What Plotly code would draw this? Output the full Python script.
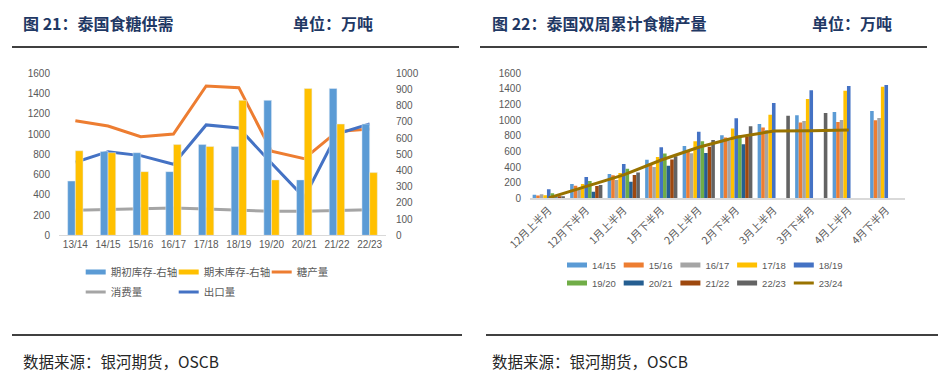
import plotly.graph_objects as go

# ---------------- data: left chart (泰国食糖供需) ----------------
seasons = ["13/14", "14/15", "15/16", "16/17", "17/18", "18/19", "19/20", "20/21", "21/22", "22/23"]
opening_stock = [335, 518, 510, 393, 560, 548, 833, 342, 906, 687]   # 期初库存-右轴
closing_stock = [522, 510, 393, 560, 548, 833, 342, 906, 687, 387]   # 期末库存-右轴
production = [1132, 1080, 974, 1000, 1475, 1458, 830, 757, 1024, 1050]  # 糖产量
consumption = [247, 257, 260, 270, 260, 250, 237, 237, 244, 253]        # 消费量
exports = [721, 826, 787, 701, 1090, 1060, 711, 372, 1000, 1100]        # 出口量

# ---------------- data: right chart (泰国双周累计食糖产量) ----------------
periods = ["12月上半月", "12月下半月", "1月上半月", "1月下半月", "2月上半月",
           "2月下半月", "3月上半月", "3月下半月", "4月上半月", "4月下半月"]
s1415 = [45, 184, 311, 493, 670, 806, 951, 1062, 1105, 1118]
s1516 = [35, 160, 294, 452, 602, 779, 905, 969, 977, 998]
s1617 = [51, 128, 235, 400, 576, 740, 875, 990, 1003, 1028]
s1718 = [38, 184, 324, 529, 730, 892, 1071, 1272, 1378, 1429]
s1819 = [115, 273, 440, 653, 853, 1026, 1220, 1382, 1438, 1451]
s1920 = [64, 222, 378, 572, 730, 806, None, None, None, None]
s2021 = [6, 85, 213, 418, 580, 691, None, None, None, None]
s2122 = [21, 158, 299, 497, 661, 790, None, None, None, None]
s2223 = [21, 171, 329, 538, 747, 922, 1058, 1092, None, None]
s2324 = [5, 149, 300, 490, 653, 781, 861, 864, 874, None]

bar_names = ["14/15", "15/16", "16/17", "17/18", "18/19", "19/20", "20/21", "21/22", "22/23"]
bar_values = [s1415, s1516, s1617, s1718, s1819, s1920, s2021, s2122, s2223]
bar_colors = ["#5B9BD5", "#ED7D31", "#A5A5A5", "#FFC000", "#4472C4",
              "#70AD47", "#255E91", "#9E480E", "#636363"]

W, H = 945, 379
def fx(x):
    return x / W
def fy(y):
    return 1 - y / H

TICK = dict(family="Liberation Sans, Arial, sans-serif", size=10, color="#595959")
CJK = "Noto Sans CJK SC, sans-serif"
SHORT = "0px,10px,23px,300px"   # legend swatch: 23px long, close to its label

fig = go.Figure()

def proxy(name, color, width, xa, ya, legend, lw=None):
    fig.add_trace(go.Scatter(x=[None], y=[None], mode="lines", name=name,
                             line=dict(color=color, width=width, dash=SHORT),
                             xaxis=xa, yaxis=ya, legend=legend, legendwidth=lw,
                             hoverinfo="skip"))

# ---- left chart ----
fig.add_trace(go.Bar(x=seasons, y=opening_stock, name="期初库存-右轴", marker_color="#5B9BD5",
                     xaxis="x", yaxis="y2", width=0.235, offset=-0.235, showlegend=False))
fig.add_trace(go.Bar(x=seasons, y=closing_stock, name="期末库存-右轴", marker_color="#FFC000",
                     xaxis="x", yaxis="y2", width=0.235, offset=0.0, showlegend=False))
fig.add_trace(go.Scatter(x=seasons, y=production, mode="lines", name="糖产量",
                         line=dict(color="#ED7D31", width=3), xaxis="x", yaxis="y", showlegend=False))
fig.add_trace(go.Scatter(x=seasons, y=consumption, mode="lines", name="消费量",
                         line=dict(color="#A5A5A5", width=3), xaxis="x", yaxis="y", showlegend=False))
fig.add_trace(go.Scatter(x=seasons, y=exports, mode="lines", name="出口量",
                         line=dict(color="#4472C4", width=3), xaxis="x", yaxis="y", showlegend=False))

proxy("期初库存-右轴", "#5B9BD5", 5, "x", "y", "legend")
proxy("期末库存-右轴", "#FFC000", 5, "x", "y", "legend")
proxy("糖产量", "#ED7D31", 3, "x", "y", "legend", 60)
proxy("消费量", "#A5A5A5", 3, "x", "y", "legend2")
proxy("出口量", "#4472C4", 3, "x", "y", "legend2", 60)

# ---- right chart ----
for nm, vals, col in zip(bar_names, bar_values, bar_colors):
    fig.add_trace(go.Bar(x=periods, y=vals, name=nm, marker_color=col, marker_line_width=0,
                         xaxis="x3", yaxis="y3", showlegend=False))
fig.add_trace(go.Scatter(x=periods, y=s2324, mode="lines", name="23/24",
                         line=dict(color="#997300", width=3), xaxis="x3", yaxis="y3",
                         showlegend=False))
for i, (nm, col) in enumerate(zip(bar_names, bar_colors)):
    proxy(nm, col, 5, "x3", "y3", "legend3" if i < 5 else "legend4", 40 if i == 4 else None)
proxy("23/24", "#997300", 3, "x3", "y3", "legend4", 40)

axis_common = dict(showgrid=False, zeroline=False, ticks="", tickfont=TICK, automargin=False)

leg_common = dict(orientation="h", xanchor="left", yanchor="middle", bgcolor="rgba(0,0,0,0)",
                  itemwidth=30, tracegroupgap=0, itemclick=False, itemdoubleclick=False)

fig.update_layout(
    width=W, height=H,
    margin=dict(l=0, r=0, t=0, b=0, autoexpand=False),
    paper_bgcolor="white", plot_bgcolor="white",
    barmode="group", bargap=0.14, bargroupgap=0,
    hovermode=False,
    xaxis=dict(domain=[fx(59), fx(386)], anchor="y", type="category",
               showline=True, linecolor="#D9D9D9", linewidth=1, **axis_common),
    yaxis=dict(domain=[fy(235.3), fy(73.3)], range=[0, 1600], dtick=200, anchor="x",
               showline=False, ticklabelstandoff=8, **axis_common),
    yaxis2=dict(overlaying="y", side="right", range=[0, 1000], dtick=100, anchor="x",
                showline=False, ticklabelstandoff=9, **axis_common),
    xaxis3=dict(domain=[fx(530), fx(905)], anchor="y3", type="category", tickangle=-45,
                showline=True, linecolor="#D9D9D9", linewidth=1.5, automargin=False,
                showgrid=False, zeroline=False, ticks="",
                tickfont=dict(family=CJK, size=10.5, color="#595959")),
    yaxis3=dict(domain=[fy(198.3), fy(73.3)], range=[0, 1600], dtick=200, anchor="x3",
                showline=False, ticklabelstandoff=8, **axis_common),
    legend=dict(x=fx(70.7), y=fy(272), entrywidth=48,
                font=dict(family=CJK, size=10.5, color="#595959"), **leg_common),
    legend2=dict(x=fx(70.7), y=fy(292), entrywidth=48,
                 font=dict(family=CJK, size=10.5, color="#595959"), **leg_common),
    legend3=dict(x=fx(552), y=fy(265), entrywidth=11.7,
                 font=dict(family="Liberation Sans, Arial, sans-serif", size=9.5, color="#595959"),
                 **leg_common),
    legend4=dict(x=fx(552), y=fy(283), entrywidth=11.7,
                 font=dict(family="Liberation Sans, Arial, sans-serif", size=9.5, color="#595959"),
                 **leg_common),
    showlegend=True,
)

title_font = dict(family=CJK, size=16, color="#1F3864", weight="bold")
foot_font = dict(family=CJK, size=15.5, color="#262626")
annots = [
    ("图 21：泰国食糖供需", 21, 23, title_font),
    ("单位：万吨", 291, 23, title_font),
    ("图 22：泰国双周累计食糖产量", 490, 23, title_font),
    ("单位：万吨", 810, 23, title_font),
    ("数据来源：银河期货，OSCB", 21, 361, foot_font),
    ("数据来源：银河期货，OSCB", 490, 361, foot_font),
]
for txt, x, y, f in annots:
    fig.add_annotation(text=txt, xref="paper", yref="paper", x=fx(x), y=fy(y),
                       xanchor="left", yanchor="middle", showarrow=False, font=f)

for x0, x1, y in [(12, 459, 47), (480, 927, 47), (12, 462, 335), (486, 938, 335)]:
    fig.add_shape(type="line", xref="paper", yref="paper", x0=fx(x0), x1=fx(x1),
                  y0=fy(y), y1=fy(y), line=dict(color="black", width=1.3))

fig.write_html("out.html", config={"displayModeBar": False},
               post_script="document.body.style.margin='0';document.body.style.overflow='hidden';")
